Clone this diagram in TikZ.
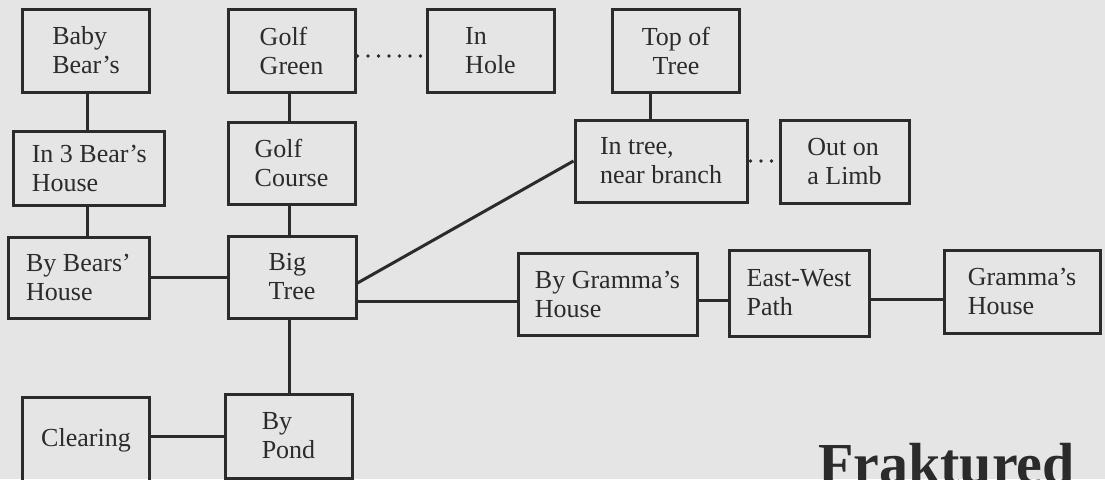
\documentclass[tikz,border=0pt]{standalone}
\usepackage{fontspec}
\setmainfont{Liberation Serif}
\usetikzlibrary{calc}
\definecolor{paper}{HTML}{E5E5E5}
\definecolor{ink}{HTML}{2B2B2B}

\begin{document}
\begin{tikzpicture}[
    x=1pt, y=-1pt,
    room/.style={draw=ink, line width=3pt, text=ink, minimum width=127pt, minimum height=83pt, font=\fontsize{26}{29}\selectfont, align=left, inner sep=2pt},
    trail/.style={draw=ink, line width=3pt},
    hidden/.style={draw=ink, line width=3.8pt, line cap=round, dash pattern=on 0pt off 10.5pt}
]
    \useasboundingbox (0,0) rectangle (1105,479);
    \fill[paper] (0,0) rectangle (1105,479);

    \node[room] (baby) at (86,50.5) {Baby\\Bear's};
    \node[room] (green) at (291.5,50.5) {Golf\\Green};
    \node[room] (hole) at (490.5,50.5) {In\\Hole};
    \node[room, align=center] (top) at (676,50.5) {Top of\\Tree};
    \node[room, minimum width=151pt, minimum height=74pt] (inbears) at (89.3,168) {In 3 Bear's\\House};
    \node[room, minimum height=82pt] (course) at (291.5,163) {Golf\\Course};
    \node[room, minimum width=172pt, minimum height=82pt] (branch) at (661,161) {In tree,\\near branch};
    \node[room, minimum width=129pt] (limb) at (844.5,161.5) {Out on\\a Limb};
    \node[room, minimum width=141pt, minimum height=81pt] (bybears) at (78.5,277.5) {By Bears'\\House};
    \node[room, minimum width=128pt, minimum height=82pt] (bigtree) at (292,277) {Big\\Tree};
    \node[room, minimum width=179pt, minimum height=82pt] (bygramma) at (607.5,294) {By Gramma's\\House};
    \node[room, minimum width=140pt, minimum height=86pt] (eastwest) at (799,293) {East-West\\Path};
    \node[room, minimum width=156pt] (gramma) at (1022,291.5) {Gramma's\\House};
    \node[room, minimum height=87pt] (clearing) at (86,440.5) {Clearing};
    \node[room, minimum height=84pt] (pond) at (288.5,436) {By\\Pond};

    \draw[trail] ([xshift=1.5]baby.south) -- ([xshift=1.5]baby.south |- inbears.north);
    \draw[trail] ([xshift=-1.8]inbears.south) -- ([xshift=-1.8]inbears.south |- bybears.north);
    \draw[trail] ([xshift=-2.5]green.south) -- ([xshift=-2.5]green.south |- course.north);
    \draw[trail] ([xshift=-2.5]course.south) -- ([xshift=-2.5]course.south |- bigtree.north);
    \draw[trail] ([xshift=-3]bigtree.south) -- ([xshift=-3]bigtree.south |- pond.north);
    \draw[trail] ([xshift=-26]top.south) -- ([xshift=-26]top.south |- branch.north);
    \draw[trail] (bybears.east) -- (bybears.east -| bigtree.west);
    \draw[trail] ([yshift=-6]bigtree.east) -- (branch.west);
    \draw[trail] ([yshift=-24]bigtree.east) -- ([yshift=-24]bigtree.east -| bygramma.west);
    \draw[trail] ([yshift=-6]bygramma.east) -- ([yshift=-6]bygramma.east -| eastwest.west);
    \draw[trail] ([yshift=-6]eastwest.east) -- ([yshift=-6]eastwest.east -| gramma.west);
    \draw[trail] (pond.west -| clearing.east) -- (pond.west);

    \draw[hidden] ([xshift=1,yshift=-5.5]green.east) -- ([yshift=-5.5]green.east -| hole.west);
    \draw[hidden] ([xshift=2]branch.east) -- (branch.east -| limb.west);

    \node[font=\fontsize{58}{60}\selectfont\bfseries, text=ink, anchor=base west, inner sep=0pt] (title) at (818,483) {Fraktured};
\end{tikzpicture}
\end{document}
